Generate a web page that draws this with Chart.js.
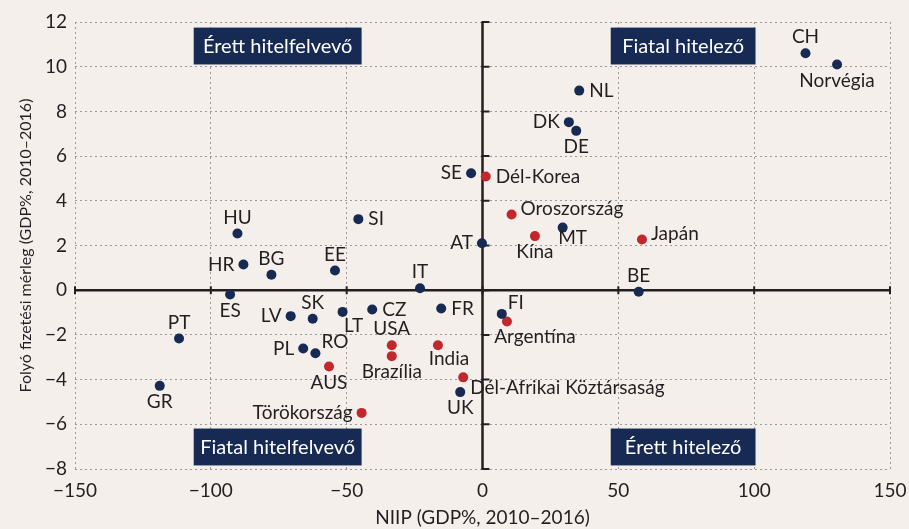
<!DOCTYPE html>
<html lang="hu">
<head>
  <meta charset="utf-8" />
  <title>NIIP vs folyó fizetési mérleg</title>
  <script src="https://cdn.jsdelivr.net/npm/chart.js@4.4.0/dist/chart.umd.min.js"></script>
  <style>
    html, body { margin: 0; padding: 0; background: #f5efec; overflow: hidden; }
    #wrap { width: 909px; height: 529px; }
    canvas { display: block; }
  </style>
</head>
<body>
<div id="wrap"><canvas id="chart" width="909" height="529"></canvas></div>

<script>
// EU / European countries (navy dots)
const euNames = ['CH', 'Norvégia', 'NL', 'DK', 'DE', 'SE', 'MT', 'AT', 'BE', 'FI', 'UK',
  'EE', 'IT', 'SK', 'LT', 'CZ', 'FR', 'RO', 'PL', 'HU', 'SI', 'HR', 'BG', 'ES', 'LV', 'PT', 'GR'];
const euX = [118.9, 130.5, 35.6, 31.8, 34.5, -4.2, 29.5, -0.2, 57.5, 7.1, -8.2,
  -54.3, -23.0, -62.5, -51.5, -40.6, -15.2, -61.5, -66.0, -90.2, -45.7, -88.0, -77.7, -92.9, -70.6, -111.7, -118.8];
const euY = [10.6, 10.1, 8.93, 7.52, 7.13, 5.23, 2.8, 2.1, -0.07, -1.06, -4.56,
  0.88, 0.09, -1.28, -0.97, -0.86, -0.82, -2.82, -2.61, 2.54, 3.18, 1.15, 0.69, -0.19, -1.16, -2.16, -4.28];
const euAnchor = ['t', 'b', 'r', 'l', 'b', 'l', 'bs', 'l', 't', 'tr', 'b',
  't', 't', 't', 'br', 'r', 'r', 'tr', 'l', 't', 'r', 'l', 't', 'b', 'l', 't', 'b'];

// other economies (red dots)
const otherNames = ['Dél-Korea', 'Oroszország', 'Kína', 'Japán', 'Argentína', 'Dél-Afrikai Köztársaság',
  'India', 'Brazília', 'USA', 'Törökország', 'AUS'];
const otherX = [1.2, 10.7, 19.3, 58.7, 9.0, -7.1, -16.4, -33.4, -33.4, -44.5, -56.5];
const otherY = [5.09, 3.39, 2.42, 2.27, -1.4, -3.9, -2.46, -2.95, -2.46, -5.49, -3.41];
const otherAnchor = ['r', 'ru', 'b', 'ru', 'bw', 'rd', 'br', 'b', 't', 'l', 'b'];

// quadrant captions (data units)
const boxLabels = ['Érett hitelfelvevő', 'Fiatal hitelező', 'Fiatal hitelfelvevő', 'Érett hitelező'];
const boxX0 = [-106.3, 47.2, -106.3, 47.2];
const boxX1 = [-44.5, 100.5, -44.5, 100.5];
const boxY0 = [11.75, 11.75, -6.19, -6.19];
const boxY1 = [10.1, 10.1, -7.84, -7.84];

const BG = '#f5efec';
const NAVY = '#172a53';
const RED = '#c1272d';
const TEXT = '#231f20';
const FONT = 'Lato, "Open Sans", sans-serif';

// label offsets in pixels: [dx, dy, align]
const anchors = {
  r:  [10, 0, 'left'],
  l:  [-9, 0, 'right'],
  t:  [0, -16, 'center'],
  b:  [0, 16, 'center'],
  ru: [9, -6, 'left'],
  rd: [7, 11, 'left'],
  tr: [6, -11, 'left'],
  br: [11, 14, 'center'],
  bs: [10, 10, 'center'],
  bw: [28, 15, 'center']
};

function toPoints(xs, ys) {
  return xs.map((x, i) => ({ x: x, y: ys[i] }));
}

const minus = v => String(v).replace('-', '\u2212');

const backgroundPlugin = {
  id: 'bg',
  beforeDraw(chart) {
    const { ctx, width, height } = chart;
    ctx.save();
    ctx.fillStyle = BG;
    ctx.fillRect(0, 0, width, height);
    ctx.restore();
  }
};

const quadrantPlugin = {
  id: 'quadrants',
  beforeDatasetsDraw(chart) {
    const { ctx, scales: { x, y }, chartArea: a } = chart;
    ctx.save();
    // heavy zero axes
    ctx.strokeStyle = TEXT;
    ctx.lineWidth = 2.5;
    ctx.beginPath();
    ctx.moveTo(a.left, y.getPixelForValue(0));
    ctx.lineTo(a.right, y.getPixelForValue(0));
    ctx.moveTo(x.getPixelForValue(0), a.top);
    ctx.lineTo(x.getPixelForValue(0), a.bottom);
    ctx.stroke();
    // small tick marks on the zero axes
    const y0 = y.getPixelForValue(0), x0 = x.getPixelForValue(0);
    ctx.lineWidth = 2;
    ctx.beginPath();
    x.ticks.forEach(t => {
      const px = x.getPixelForValue(t.value);
      ctx.moveTo(px, y0 - 4);
      ctx.lineTo(px, y0 + 4);
    });
    y.ticks.forEach(t => {
      const py = y.getPixelForValue(t.value);
      ctx.moveTo(x0 - 1, py);
      ctx.lineTo(x0 + 7, py);
    });
    ctx.stroke();

    // quadrant boxes
    ctx.font = '20px ' + FONT;
    ctx.textAlign = 'center';
    ctx.textBaseline = 'middle';
    boxLabels.forEach((txt, i) => {
      const l = x.getPixelForValue(boxX0[i]);
      const r = x.getPixelForValue(boxX1[i]);
      const t = y.getPixelForValue(boxY0[i]);
      const b = y.getPixelForValue(boxY1[i]);
      ctx.fillStyle = NAVY;
      ctx.fillRect(l, t, r - l, b - t);
      ctx.fillStyle = '#ffffff';
      ctx.fillText(txt, (l + r) / 2, (t + b) / 2 + 1);
    });
    ctx.restore();
  }
};

const labelPlugin = {
  id: 'pointLabels',
  afterDatasetsDraw(chart) {
    const { ctx } = chart;
    const sets = [[euNames, euAnchor], [otherNames, otherAnchor]];
    ctx.save();
    ctx.font = '19px ' + FONT;
    ctx.fillStyle = TEXT;
    ctx.textBaseline = 'middle';
    sets.forEach(([names, anch], di) => {
      chart.getDatasetMeta(di).data.forEach((pt, i) => {
        const [dx, dy, align] = anchors[anch[i]];
        ctx.textAlign = align;
        ctx.fillText(names[i], pt.x + dx, pt.y + dy);
      });
    });
    ctx.restore();
  }
};

window.addEventListener('load', () => {
  const ctx = document.getElementById('chart').getContext('2d');
  new Chart(ctx, {
    type: 'scatter',
    data: {
      datasets: [
        {
          label: 'EU',
          data: toPoints(euX, euY),
          backgroundColor: NAVY,
          borderWidth: 0,
          pointRadius: 5
        },
        {
          label: 'Egyéb',
          data: toPoints(otherX, otherY),
          backgroundColor: RED,
          borderWidth: 0,
          pointRadius: 5
        }
      ]
    },
    options: {
      responsive: false,
      animation: false,
      layout: { padding: { top: 22, right: 19, left: 0, bottom: 0 } },
      plugins: {
        legend: { display: false },
        tooltip: { enabled: false }
      },
      scales: {
        x: {
          type: 'linear',
          min: -150,
          max: 150,
          afterFit: s => { s.height = 60; s.paddingLeft = 0; s.paddingRight = 0; },
          ticks: {
            stepSize: 50,
            padding: 10,
            color: TEXT,
            font: { family: FONT, size: 19 },
            callback: v => minus(v)
          },
          grid: { color: '#9a9a9a', lineWidth: 1, drawTicks: false },
          border: { display: false, dash: [2, 3] },
          title: {
            display: true,
            text: 'NIIP (GDP%, 2010–2016)',
            color: TEXT,
            font: { family: FONT, size: 19 },
            padding: { top: 0, bottom: 0 }
          }
        },
        y: {
          type: 'linear',
          min: -8,
          max: 12,
          afterFit: s => { s.width = 75; },
          ticks: {
            stepSize: 2,
            padding: 8,
            color: TEXT,
            font: { family: FONT, size: 19 },
            callback: v => minus(v)
          },
          grid: { color: '#9a9a9a', lineWidth: 1, drawTicks: false },
          border: { display: false, dash: [2, 3] },
          title: {
            display: true,
            text: 'Folyó fizetési mérleg (GDP%, 2010–2016)',
            color: TEXT,
            font: { family: FONT, size: 16 },
            padding: { top: 16, bottom: 0 }
          }
        }
      }
    },
    plugins: [backgroundPlugin, quadrantPlugin, labelPlugin]
  });
});
</script>
</body>
</html>
